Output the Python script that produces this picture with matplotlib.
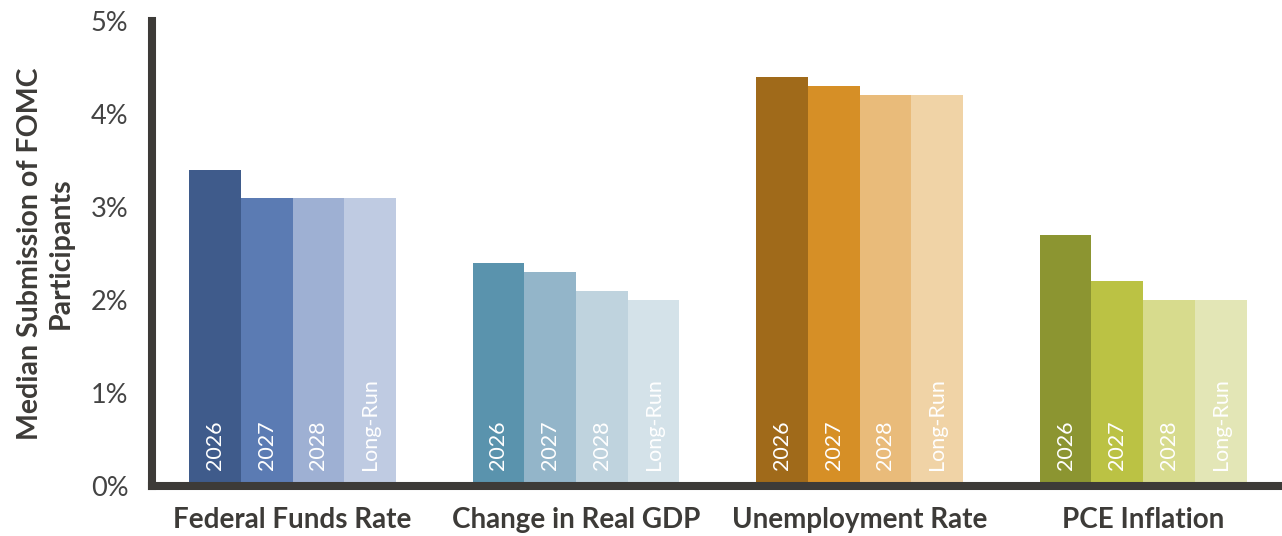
import matplotlib
matplotlib.use("Agg")
import matplotlib.pyplot as plt
import numpy as np

categories = ["Federal Funds Rate", "Change in Real GDP", "Unemployment Rate", "PCE Inflation"]
periods = ["2026", "2027", "2028", "Long-Run"]
values = {
    "Federal Funds Rate": [3.4, 3.1, 3.1, 3.1],
    "Change in Real GDP": [2.4, 2.3, 2.1, 2.0],
    "Unemployment Rate": [4.4, 4.3, 4.2, 4.2],
    "PCE Inflation": [2.7, 2.2, 2.0, 2.0],
}
colors = {
    "Federal Funds Rate": ["#3f5b8b", "#5b7bb3", "#9eb0d3", "#bfcbe2"],
    "Change in Real GDP": ["#5a93ad", "#93b5c9", "#bfd3de", "#d4e2e9"],
    "Unemployment Rate": ["#a06a1a", "#d68f26", "#e9bb7a", "#f0d3a6"],
    "PCE Inflation": ["#8c9531", "#bbc244", "#d7db8d", "#e3e6b6"],
}
yticks = [0, 1, 2, 3, 4, 5]
ytick_labels = ["0%", "1%", "2%", "3%", "4%", "5%"]

plt.rcParams["font.family"] = ["Lato", "DejaVu Sans"]
dark = "#3d3b38"

fig = plt.figure(figsize=(12.82, 5.36), dpi=100)
ax = fig.add_axes([152 / 1282, 1 - 486 / 536, 1 - 152 / 1282, (486 - 21) / 536])

bw = 0.1824
for gi, cat in enumerate(categories):
    for j, (v, c, p) in enumerate(zip(values[cat], colors[cat], periods)):
        x = gi + (j - 1.5) * bw
        ax.bar(x, v, width=bw, color=c, linewidth=0, zorder=2)
        ax.text(x, 0.17, p, rotation=90, ha="center", va="bottom",
                color="white", fontsize=15.5, zorder=3)

ax.set_xlim(-0.4956, 3.49)
ax.set_ylim(0, 5)
ax.set_yticks(yticks)
ax.set_yticklabels(ytick_labels, fontsize=19.5, color="#444444")
ax.set_xticks(range(len(categories)))
ax.set_xticklabels(categories, fontsize=20, fontweight="bold", color=dark)
ax.tick_params(axis="y", length=0, pad=17)
ax.tick_params(axis="x", length=0, pad=15)
for s in ["top", "right"]:
    ax.spines[s].set_visible(False)
for s in ["left", "bottom"]:
    ax.spines[s].set_color(dark)
    ax.spines[s].set_linewidth(5.8)
    ax.spines[s].set_capstyle("projecting")
ax.set_ylabel("Median Submission of FOMC\nParticipants", fontsize=20.5,
              fontweight="bold", color=dark, linespacing=1.25)
ax.yaxis.set_label_coords(-0.069, 0.5)

fig.savefig("out.png", dpi=100)
